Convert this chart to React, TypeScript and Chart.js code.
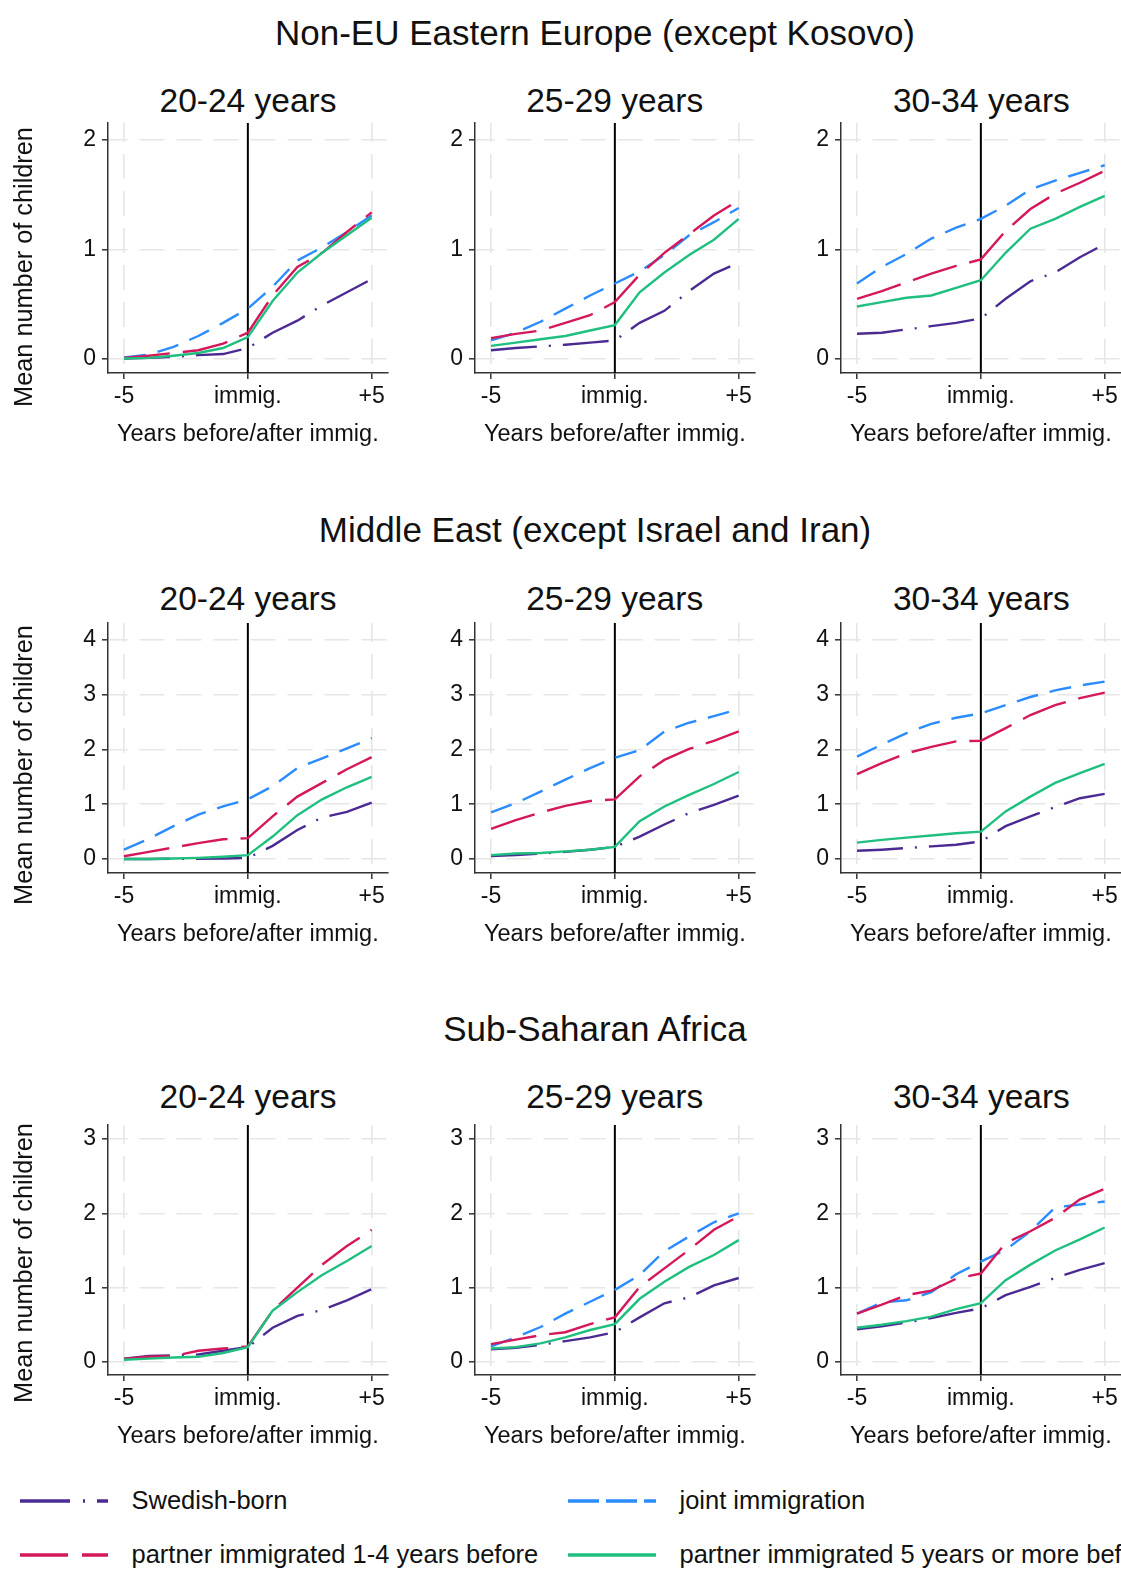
import React, { useEffect, useRef } from "react";
import { Chart, registerables } from "chart.js";

Chart.register(...registerables);

const FONT = '"Liberation Sans", Arial, Helvetica, sans-serif';

// ---------- data ----------
const YEARS = [-5, -4, -3, -2, -1, 0, 1, 2, 3, 4, 5];
const X_TICKS = [-5, 0, 5];
const X_TICK_LABELS = ["-5", "immig.", "+5"];
const XLINE = 0;

const REGIONS = [
  "Non-EU Eastern Europe (except Kosovo)",
  "Middle East (except Israel and Iran)",
  "Sub-Saharan Africa",
];
const AGE_GROUPS = ["20-24 years", "25-29 years", "30-34 years"];
const Y_TICKS_NEU = [0, 1, 2];
const Y_TICKS_ME = [0, 1, 2, 3, 4];
const Y_TICKS_SSA = [0, 1, 2, 3];
const Y_MIN = [-0.128, -0.256, -0.176];
const Y_MAX = [2.156, 4.312, 3.19];

const SERIES_NAMES = [
  "Swedish-born",
  "joint immigration",
  "partner immigrated 1-4 years before",
  "partner immigrated 5 years or more before",
];
const SERIES_COLORS = ["#4b2b93", "#2b8cff", "#d5175b", "#1fbf7f"];

// Non-EU Eastern Europe
const NEU_2024_SWE = [0.005, 0.01, 0.02, 0.035, 0.045, 0.10, 0.24, 0.35, 0.49, 0.61, 0.73];
const NEU_2024_JOINT = [0.015, 0.04, 0.11, 0.21, 0.33, 0.46, 0.66, 0.90, 1.02, 1.16, 1.31];
const NEU_2024_P14 = [0.01, 0.03, 0.055, 0.08, 0.14, 0.24, 0.58, 0.84, 0.97, 1.16, 1.34];
const NEU_2024_P5 = [0.005, 0.01, 0.03, 0.055, 0.10, 0.20, 0.53, 0.79, 0.97, 1.13, 1.29];

const NEU_2529_SWE = [0.08, 0.10, 0.115, 0.13, 0.15, 0.17, 0.33, 0.44, 0.62, 0.78, 0.88];
const NEU_2529_JOINT = [0.17, 0.24, 0.34, 0.46, 0.58, 0.69, 0.80, 0.95, 1.13, 1.25, 1.38];
const NEU_2529_P14 = [0.19, 0.23, 0.26, 0.33, 0.40, 0.52, 0.77, 0.97, 1.14, 1.31, 1.45];
const NEU_2529_P5 = [0.12, 0.15, 0.18, 0.21, 0.26, 0.31, 0.61, 0.79, 0.95, 1.09, 1.28];

const NEU_3034_SWE = [0.23, 0.24, 0.27, 0.30, 0.33, 0.37, 0.55, 0.71, 0.79, 0.93, 1.05];
const NEU_3034_JOINT = [0.69, 0.84, 0.96, 1.10, 1.20, 1.28, 1.40, 1.55, 1.63, 1.70, 1.77];
const NEU_3034_P14 = [0.55, 0.62, 0.70, 0.78, 0.85, 0.91, 1.17, 1.37, 1.51, 1.61, 1.72];
const NEU_3034_P5 = [0.48, 0.52, 0.56, 0.58, 0.65, 0.72, 0.97, 1.19, 1.28, 1.39, 1.49];

// Middle East
const ME_2024_SWE = [0.0, 0.0, 0.005, 0.005, 0.01, 0.02, 0.24, 0.53, 0.76, 0.86, 1.03];
const ME_2024_JOINT = [0.17, 0.37, 0.60, 0.81, 0.96, 1.09, 1.33, 1.66, 1.84, 2.02, 2.21];
const ME_2024_P14 = [0.05, 0.13, 0.21, 0.29, 0.36, 0.38, 0.78, 1.14, 1.39, 1.64, 1.86];
const ME_2024_P5 = [0.0, 0.0, 0.01, 0.02, 0.04, 0.07, 0.41, 0.80, 1.09, 1.31, 1.50];

const ME_2529_SWE = [0.055, 0.07, 0.10, 0.13, 0.17, 0.22, 0.41, 0.63, 0.84, 0.99, 1.16];
const ME_2529_JOINT = [0.85, 1.02, 1.23, 1.45, 1.66, 1.85, 1.99, 2.33, 2.49, 2.61, 2.74];
const ME_2529_P14 = [0.55, 0.71, 0.85, 0.97, 1.06, 1.09, 1.51, 1.81, 2.01, 2.16, 2.33];
const ME_2529_P5 = [0.07, 0.10, 0.11, 0.14, 0.17, 0.22, 0.69, 0.96, 1.17, 1.37, 1.59];

const ME_3034_SWE = [0.15, 0.17, 0.20, 0.23, 0.26, 0.32, 0.60, 0.78, 0.95, 1.11, 1.19];
const ME_3034_JOINT = [1.87, 2.09, 2.30, 2.47, 2.58, 2.66, 2.81, 2.96, 3.08, 3.17, 3.24];
const ME_3034_P14 = [1.55, 1.75, 1.93, 2.05, 2.15, 2.16, 2.39, 2.63, 2.81, 2.94, 3.04];
const ME_3034_P5 = [0.30, 0.35, 0.39, 0.43, 0.47, 0.50, 0.87, 1.14, 1.39, 1.57, 1.74];

// Sub-Saharan Africa
const SSA_2024_SWE = [0.045, 0.08, 0.09, 0.10, 0.15, 0.20, 0.46, 0.62, 0.70, 0.83, 0.98];
const SSA_2024_JOINT: number[] = [];
const SSA_2024_P14 = [0.04, 0.07, 0.08, 0.15, 0.18, 0.21, 0.69, 1.00, 1.31, 1.56, 1.78];
const SSA_2024_P5 = [0.03, 0.045, 0.06, 0.07, 0.12, 0.20, 0.69, 0.94, 1.17, 1.36, 1.56];

const SSA_2529_SWE = [0.17, 0.19, 0.23, 0.28, 0.33, 0.40, 0.60, 0.79, 0.87, 1.03, 1.13];
const SSA_2529_JOINT = [0.21, 0.33, 0.47, 0.65, 0.81, 0.97, 1.17, 1.49, 1.69, 1.88, 2.00];
const SSA_2529_P14 = [0.24, 0.30, 0.36, 0.40, 0.51, 0.60, 1.01, 1.26, 1.51, 1.78, 1.96];
const SSA_2529_P5 = [0.18, 0.20, 0.25, 0.33, 0.43, 0.51, 0.85, 1.08, 1.28, 1.44, 1.64];

const SSA_3034_SWE = [0.44, 0.48, 0.53, 0.59, 0.66, 0.72, 0.90, 1.01, 1.13, 1.24, 1.33];
const SSA_3034_JOINT = [0.65, 0.80, 0.83, 0.94, 1.18, 1.35, 1.51, 1.76, 2.08, 2.12, 2.16];
const SSA_3034_P14 = [0.65, 0.77, 0.90, 0.96, 1.12, 1.19, 1.60, 1.76, 1.94, 2.19, 2.33];
const SSA_3034_P5 = [0.46, 0.50, 0.55, 0.61, 0.71, 0.79, 1.10, 1.31, 1.50, 1.65, 1.81];

const PANEL_SERIES = [
  [
    [NEU_2024_SWE, NEU_2024_JOINT, NEU_2024_P14, NEU_2024_P5],
    [NEU_2529_SWE, NEU_2529_JOINT, NEU_2529_P14, NEU_2529_P5],
    [NEU_3034_SWE, NEU_3034_JOINT, NEU_3034_P14, NEU_3034_P5],
  ],
  [
    [ME_2024_SWE, ME_2024_JOINT, ME_2024_P14, ME_2024_P5],
    [ME_2529_SWE, ME_2529_JOINT, ME_2529_P14, ME_2529_P5],
    [ME_3034_SWE, ME_3034_JOINT, ME_3034_P14, ME_3034_P5],
  ],
  [
    [SSA_2024_SWE, SSA_2024_JOINT, SSA_2024_P14, SSA_2024_P5],
    [SSA_2529_SWE, SSA_2529_JOINT, SSA_2529_P14, SSA_2529_P5],
    [SSA_3034_SWE, SSA_3034_JOINT, SSA_3034_P14, SSA_3034_P5],
  ],
];
const ROW_Y_TICKS = [Y_TICKS_NEU, Y_TICKS_ME, Y_TICKS_SSA];

// ---------- styling / layout ----------
const SERIES_DASH = [[46, 12, 2, 12], [22, 12], [46, 13], []];
const LEGEND_DASH = ["50 13 2 12", "31 7", "48 14", ""];
const PLOT_OFF = [1, 500.5, 1003];
const TITLE_OFF = [0, 497.5, 996];
const COL_OFF = [0, 366.7, 733.4];
const PAD_TOP = 20;
const X_SCALE_H = 76;
const CANVAS_W = 392;
const CANVAS_H = PAD_TOP + 250 + X_SCALE_H;
const TEXT = "#111";

const immigLinePlugin = {
  id: "immigLine",
  beforeDatasetsDraw(chart: any) {
    const { ctx, chartArea, scales } = chart;
    const px = scales.x.getPixelForValue(XLINE);
    ctx.save();
    ctx.strokeStyle = "#000";
    ctx.lineWidth = 2;
    ctx.beginPath();
    ctx.moveTo(px, chartArea.top);
    ctx.lineTo(px, chartArea.bottom);
    ctx.stroke();
    ctx.restore();
  },
};

function Panel({ row, col }: { row: number; col: number }) {
  const ref = useRef<HTMLCanvasElement | null>(null);
  useEffect(() => {
    if (!ref.current) return;
    const yTicks = ROW_Y_TICKS[row];
    const series = PANEL_SERIES[row][col];
    const datasets = series.map((vals, s) => ({
      label: SERIES_NAMES[s],
      data: vals.map((v, i) => ({ x: YEARS[i], y: v })),
      borderColor: SERIES_COLORS[s],
      backgroundColor: SERIES_COLORS[s],
      borderWidth: 2.4,
      borderDash: SERIES_DASH[s],
      pointRadius: 0,
      tension: 0,
      fill: false,
      order: 3 - s,
    }));
    const gridColor = "#e6e6e6";
    const chart = new Chart(ref.current, {
      type: "line",
      data: { datasets },
      plugins: [immigLinePlugin],
      options: {
        animation: false,
        responsive: false,
        maintainAspectRatio: false,
        devicePixelRatio: 1,
        layout: { autoPadding: false, padding: { top: PAD_TOP, right: 4.3, bottom: 0, left: 0 } },
        plugins: { legend: { display: false }, tooltip: { enabled: false }, title: { display: false } },
        scales: {
          x: {
            type: "linear",
            min: -5.646,
            max: 5.646,
            afterBuildTicks: (s: any) => {
              s.ticks = X_TICKS.map((v) => ({ value: v }));
            },
            afterFit: (s: any) => {
              s.height = X_SCALE_H;
            },
            ticks: {
              autoSkip: false,
              maxRotation: 0,
              padding: 3.5,
              color: TEXT,
              font: { family: FONT, size: 23 },
              callback: (v: any) => X_TICK_LABELS[X_TICKS.indexOf(Number(v))],
            },
            grid: {
              color: (c: any) => (c.tick && c.tick.value === XLINE ? "rgba(0,0,0,0)" : gridColor),
              lineWidth: 1.6,
              drawTicks: true,
              tickLength: 6,
              tickColor: "#333",
              tickWidth: 1.5,
              tickBorderDash: [],
            },
            border: { display: true, color: "#333", width: 1.5, dash: [25, 12], dashOffset: 6 },
            title: {
              display: true,
              text: "Years before/after immig.",
              color: TEXT,
              font: { family: FONT, size: 23.5 },
              padding: { top: 0, bottom: 0 },
            },
          },
          y: {
            type: "linear",
            min: Y_MIN[row],
            max: Y_MAX[row],
            afterBuildTicks: (s: any) => {
              s.ticks = yTicks.map((v) => ({ value: v }));
            },
            afterFit: (s: any) => {
              s.width = 108;
            },
            ticks: {
              padding: 6,
              color: TEXT,
              font: { family: FONT, size: 23 },
              callback: (v: any) => String(v),
            },
            grid: {
              color: gridColor,
              lineWidth: 1.6,
              drawTicks: true,
              tickLength: 6,
              tickColor: "#333",
              tickWidth: 1.5,
              tickBorderDash: [],
            },
            border: { display: true, color: "#333", width: 1.5, dash: [25, 12], dashOffset: 6 },
          },
        },
      },
    } as any);
    return () => chart.destroy();
  }, [row, col]);
  return (
    <canvas
      ref={ref}
      width={CANVAS_W}
      height={CANVAS_H}
      style={{
        position: "absolute",
        left: COL_OFF[col],
        top: PLOT_OFF[row] + 122 - PAD_TOP,
        width: CANVAS_W,
        height: CANVAS_H,
      }}
    />
  );
}

function Text({ x, y, size, children, align = "center", w = 1200 }: any) {
  const left = align === "center" ? x - w / 2 : x;
  return (
    <div
      style={{
        position: "absolute",
        left,
        top: y - size / 2,
        width: w,
        height: size,
        lineHeight: `${size}px`,
        fontSize: size,
        fontFamily: FONT,
        color: TEXT,
        textAlign: align === "center" ? "center" : "left",
        whiteSpace: "nowrap",
      }}
    >
      {children}
    </div>
  );
}

function LegendItem({ idx, x, y, textX }: { idx: number; x: number; y: number; textX: number }) {
  return (
    <>
      <svg width={88} height={8} style={{ position: "absolute", left: x, top: y - 4 }}>
        <line
          x1={0}
          y1={4}
          x2={88}
          y2={4}
          stroke={SERIES_COLORS[idx]}
          strokeWidth={3.5}
          strokeDasharray={LEGEND_DASH[idx] || undefined}
        />
      </svg>
      <Text x={textX} y={y} size={25.5} align="left" w={600}>
        {SERIES_NAMES[idx]}
      </Text>
    </>
  );
}

export default function App() {
  const rows = [0, 1, 2];
  const cols = [0, 1, 2];
  return (
    <div
      style={{
        position: "absolute",
        left: 0,
        top: 0,
        width: 1121,
        height: 1573,
        overflow: "hidden",
        background: "#fff",
      }}
    >
      {rows.map((r) => (
        <React.Fragment key={r}>
          <Text x={595} y={TITLE_OFF[r] + 32} size={35}>
            {REGIONS[r]}
          </Text>
          {cols.map((c) => (
            <React.Fragment key={c}>
              <Text x={COL_OFF[c] + 248} y={TITLE_OFF[r] + 101} size={33.5} w={360}>
                {AGE_GROUPS[c]}
              </Text>
              <Panel row={r} col={c} />
            </React.Fragment>
          ))}
          <div
            style={{
              position: "absolute",
              left: 22.5 - 200,
              top: TITLE_OFF[r] + 267 - 13,
              width: 400,
              height: 26,
              lineHeight: "26px",
              fontSize: 25.3,
              fontFamily: FONT,
              color: TEXT,
              textAlign: "center",
              whiteSpace: "nowrap",
              transform: "rotate(-90deg)",
            }}
          >
            Mean number of children
          </div>
        </React.Fragment>
      ))}
      <LegendItem idx={0} x={20} y={1501} textX={131.5} />
      <LegendItem idx={1} x={568} y={1501} textX={679.5} />
      <LegendItem idx={2} x={20} y={1555} textX={131.5} />
      <LegendItem idx={3} x={568} y={1555} textX={679.5} />
    </div>
  );
}
